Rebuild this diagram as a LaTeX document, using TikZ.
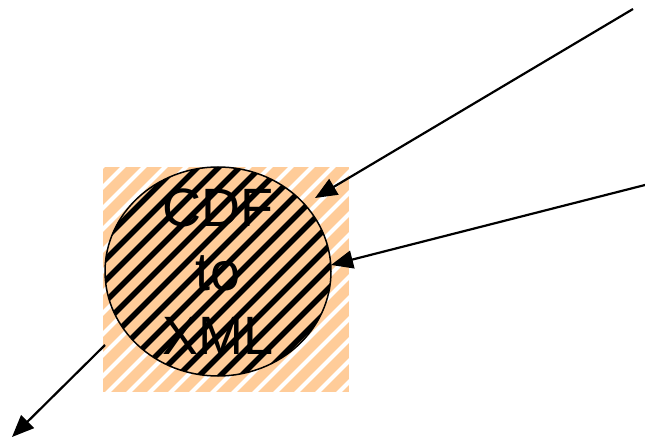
\documentclass[tikz,border=0pt]{standalone}
\usepackage{fontspec}
\setmainfont{Liberation Sans}
\usetikzlibrary{shapes.geometric,arrows.meta}
\definecolor{peach}{RGB}{255,204,153}
\tikzset{
  sqbox/.style={rectangle, inner sep=0pt, minimum width=246bp, minimum height=225bp, fill=peach},
  procell/.style={ellipse, inner sep=0pt, minimum width=226bp, minimum height=209bp, fill=peach},
  procedge/.style={draw=black, line width=1.5bp},
  whitestripe/.style={white, line width=4bp},
  blackstripe/.style={black, line width=5.5bp},
  proclabel/.style={align=center, inner sep=0pt, font=\fontsize{54bp}{64bp}\selectfont},
  flow/.style={line width=2.2bp, -{Triangle[length=22bp,width=18bp]}}
}
\begin{document}
\begin{tikzpicture}[x=1bp,y=-1bp]
\useasboundingbox (0,0) rectangle (645,441);
\node[sqbox] (sq) at (226,279.5) {};
\begin{scope}
  \clip (sq.south west) rectangle (sq.north east);
  \foreach \c in {248,269,...,760} \draw[whitestripe] (\c-420,420) -- (\c-140,140);
\end{scope}
\node[procell] (ell) at (218,271.5) {};
\begin{scope}
  \clip (ell.center) ellipse [x radius=113, y radius=104.5];
  \foreach \c in {260,281,...,680} \draw[blackstripe] (\c-420,420) -- (\c-140,140);
\end{scope}
\draw[procedge] (ell.center) ellipse [x radius=113, y radius=104.5];
\node[proclabel] (lbl) at (ell.center) {CDF\\to\\XML};
\coordinate (in1s) at (633,9);
\coordinate (in1e) at (315,198);
\coordinate (in2s) at (645,185);
\coordinate (in2e) at (331,265);
\coordinate (outs) at (105,345);
\coordinate (oute) at (12,437);
\draw[flow] (in1s) -- (in1e);
\draw[flow] (in2s) -- (in2e);
\draw[flow] (outs) -- (oute);
\end{tikzpicture}
\end{document}
